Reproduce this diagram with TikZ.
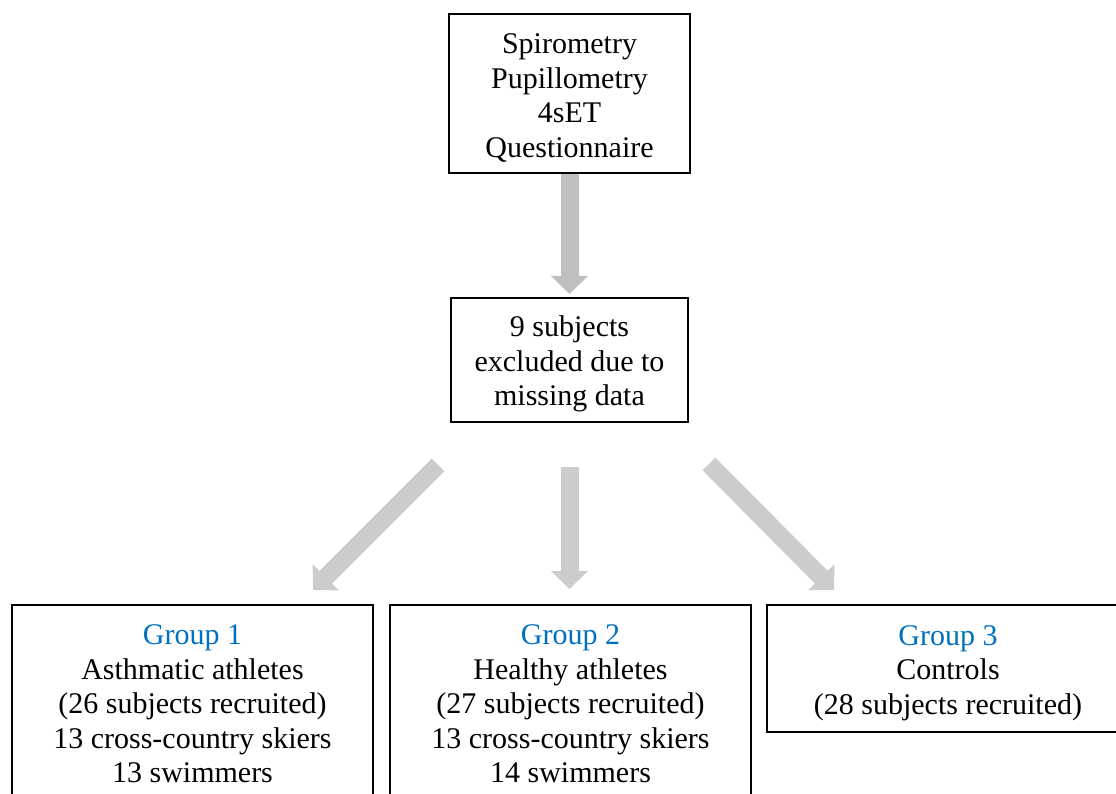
\documentclass[tikz,border=0pt]{standalone}
\usepackage{fontspec}
\setmainfont{Liberation Serif}
\usetikzlibrary{arrows.meta}
\definecolor{grpblue}{HTML}{0070C0}
\definecolor{arrowtop}{HTML}{BFBFBF}
\definecolor{arrowlow}{HTML}{CCCCCC}
\newcommand{\tallstrut}{\rule{0pt}{29pt}}
\begin{document}
\begin{tikzpicture}[x=1pt,y=-1pt,
  box/.style={draw=black, line width=2pt, rectangle, align=center, inner sep=0pt,
    font=\fontsize{30}{34.5}\selectfont},
  bigarrow/.style={line width=18pt, -{Triangle[width=36pt,length=18pt]}},
  grp/.style={text=grpblue}]
\useasboundingbox (0,0) rectangle (1116,794);
\clip (0,0) rectangle (1116,794);
\fill[white] (0,0) rectangle (1116,794);

\node[box, minimum width=241pt, minimum height=159pt] (top) at (569.5,93.5)
  {\tallstrut Spirometry\\Pupillometry\\4sET\\Questionnaire};
\node[box, minimum width=237pt, minimum height=124pt] (mid) at (569.5,360)
  {\tallstrut 9 subjects\\excluded due to\\missing data};

\node[box, minimum width=361pt, minimum height=198pt] (g1) at (192.5,704)
  {\textcolor{grpblue}{Group 1}\\Asthmatic athletes\\(26 subjects recruited)\\13 cross-country skiers\\13 swimmers};
\node[box, minimum width=361pt, minimum height=198pt] (g2) at (570.5,704)
  {\textcolor{grpblue}{Group 2}\\Healthy athletes\\(27 subjects recruited)\\13 cross-country skiers\\14 swimmers};
\node[box, minimum width=362pt, minimum height=127pt] (g3) at (948,668.5)
  {\tallstrut\textcolor{grpblue}{Group 3}\\Controls\\(28 subjects recruited)};

\draw[bigarrow, draw=arrowtop, fill=arrowtop, shorten >=3pt] (top.south) -- (mid.north);
\draw[bigarrow, draw=arrowlow, fill=arrowlow, shorten <=44pt, shorten >=15pt] (mid.south) -- (mid.south |- g2.north);

\coordinate (l1s) at (438,465);
\coordinate (l1e) at (313,590);
\coordinate (r3s) at (709,464);
\coordinate (r3e) at (834,590);
\draw[bigarrow, draw=arrowlow, fill=arrowlow] (l1s) -- (l1e);
\draw[bigarrow, draw=arrowlow, fill=arrowlow] (r3s) -- (r3e);
\end{tikzpicture}
\end{document}
